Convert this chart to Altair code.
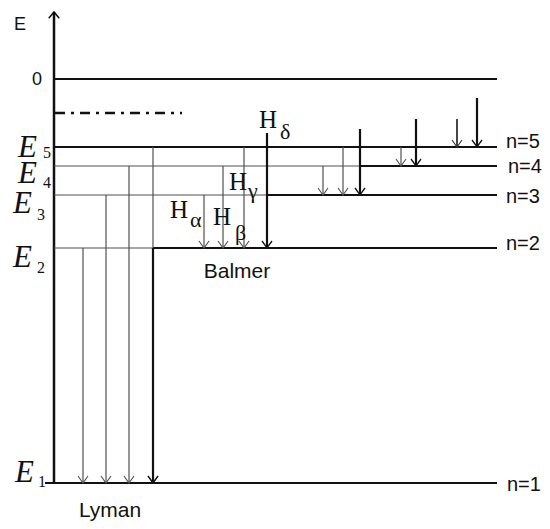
import altair as alt
import pandas as pd

# ---------------- data (diagram coordinates) ----------------
level_names = ["n=1", "n=2", "n=3", "n=4", "n=5"]
level_y = [483, 248, 195, 166, 147]
level_start = [45, 54, 54, 54, 54]
level_thick_from = [45, 153, 267, 360, 54]
level_end = 497
level_label_x = [507, 506, 506, 508, 506]
level_label_base = [491, 250, 203, 173, 148]

energy_sub = ["1", "2", "3", "4", "5"]
energy_x = [15, 13, 13, 18, 18]
energy_base = [482, 267, 213, 183, 157]
energy_sub_x = [38, 37, 37, 43, 43]
energy_sub_base = [487, 273, 220, 188, 158]

zero_y = 79
limit_dash_y = 113
limit_dash_x = [55, 182]
axis_x = 54
axis_top = 12

trans_series = ["Lyman"] * 4 + ["Balmer"] * 3 + ["Paschen"] * 2 + ["Brackett"] + ["Pfund"]
trans_x = [83, 106, 129, 153, 204, 223, 244, 323, 343, 401, 457]
trans_top = [248, 195, 166, 147, 195, 166, 147, 166, 147, 147, 119]
trans_bottom = [483] * 4 + [248] * 3 + [195] * 2 + [166] + [147]
trans_w = [1.2, 1.2, 1.2, 1.2, 1.2, 1.2, 1.2, 1.2, 1.2, 1.2, 1.8]

limit_series = ["Lyman", "Balmer", "Paschen", "Brackett", "Pfund"]
limit_x = [153, 267, 360, 416, 477]
limit_top = [248, 133, 129, 119, 98]
limit_bottom = [483, 248, 195, 166, 147]

h_sub = ["α", "β", "γ", "δ"]
h_x = [170, 213, 229, 259]
h_base = [218, 225, 190, 128]
h_sub_x = [190, 235, 248, 280]
h_sub_base = [227, 240, 198, 139]

series_labels = ["Lyman", "Balmer"]
series_label_x = [110, 237]
series_label_base = [517, 278]

# ---------------- scales ----------------
W, H = 534, 513
xs = alt.Scale(domain=[8, 8 + W], zero=False, nice=False)
ys = alt.Scale(domain=[8, 8 + H], zero=False, nice=False, reverse=True)

BLACK = "#111111"
GRAY = "#505050"

# ---------------- segments ----------------
seg = []
seg.append(dict(x=axis_x, x2=axis_x, y=axis_top, y2=level_y[0], w=2.5, c=BLACK))
seg.append(dict(x=axis_x, x2=level_end, y=zero_y, y2=zero_y, w=2, c=BLACK))
for i in range(len(level_names)):
    yv = level_y[i]
    if level_thick_from[i] > level_start[i]:
        seg.append(dict(x=level_start[i], x2=level_thick_from[i], y=yv, y2=yv, w=1.2, c=GRAY))
    seg.append(dict(x=level_thick_from[i], x2=level_end, y=yv, y2=yv, w=2.2, c=BLACK))
for i in range(len(trans_x)):
    seg.append(dict(x=trans_x[i], x2=trans_x[i], y=trans_top[i], y2=trans_bottom[i],
                    w=trans_w[i], c=GRAY if trans_w[i] < 1.5 else "#333333"))
for i in range(len(limit_x)):
    seg.append(dict(x=limit_x[i], x2=limit_x[i], y=limit_top[i], y2=limit_bottom[i],
                    w=2.2, c=BLACK))
seg_df = pd.DataFrame(seg)

rules = alt.Chart(seg_df).mark_rule().encode(
    x=alt.X("x:Q", scale=xs, axis=None),
    x2="x2:Q",
    y=alt.Y("y:Q", scale=ys, axis=None),
    y2="y2:Q",
    strokeWidth=alt.StrokeWidth("w:Q", scale=None),
    color=alt.Color("c:N", scale=None),
)

dash_df = pd.DataFrame([dict(x=limit_dash_x[0], x2=limit_dash_x[1], y=limit_dash_y, y2=limit_dash_y)])
dash = alt.Chart(dash_df).mark_rule(color=BLACK, strokeWidth=2.5, strokeDash=[10, 6, 3, 6]).encode(
    x=alt.X("x:Q", scale=xs, axis=None), x2="x2:Q",
    y=alt.Y("y:Q", scale=ys, axis=None), y2="y2:Q",
)

# ---------------- arrowheads ----------------
heads = []
for i in range(len(trans_x)):
    heads.append(dict(x=trans_x[i], y=trans_bottom[i], c=GRAY if trans_w[i] < 1.5 else "#333333", w=1.1))
for i in range(len(limit_x)):
    heads.append(dict(x=limit_x[i], y=limit_bottom[i], c=BLACK, w=1.3))
head_df = pd.DataFrame(heads)
arrowheads = alt.Chart(head_df).mark_point(
    shape="M-1,-1.4L0,0L1,-1.4", filled=False, size=100, opacity=1
).encode(
    x=alt.X("x:Q", scale=xs, axis=None),
    y=alt.Y("y:Q", scale=ys, axis=None),
    color=alt.Color("c:N", scale=None),
    strokeWidth=alt.StrokeWidth("w:Q", scale=None),
)
axis_head = alt.Chart(pd.DataFrame([dict(x=axis_x, y=axis_top)])).mark_point(
    shape="M-1,1.2L0,0L1,1.2", filled=False, size=110, color=BLACK, strokeWidth=1.5, opacity=1
).encode(x=alt.X("x:Q", scale=xs, axis=None), y=alt.Y("y:Q", scale=ys, axis=None))


# ---------------- texts ----------------
def text_layer(df, font, align="left", style="normal"):
    return alt.Chart(df).mark_text(
        font=font, align=align, baseline="alphabetic", fontStyle=style, color=BLACK
    ).encode(
        x=alt.X("x:Q", scale=xs, axis=None),
        y=alt.Y("y:Q", scale=ys, axis=None),
        text="t:N",
        size=alt.Size("s:Q", scale=None),
    )


sans_left = pd.DataFrame(
    [dict(x=14, y=30, t="E", s=18), dict(x=32, y=85, t="0", s=18)]
    + [dict(x=level_label_x[i], y=level_label_base[i], t=level_names[i], s=20) for i in range(5)]
)
sans_center = pd.DataFrame(
    [dict(x=series_label_x[i], y=series_label_base[i], t=series_labels[i], s=21) for i in range(2)]
)
e_letters = pd.DataFrame([dict(x=energy_x[i], y=energy_base[i], t="E", s=31) for i in range(5)])
e_subs = pd.DataFrame([dict(x=energy_sub_x[i], y=energy_sub_base[i], t=energy_sub[i], s=16) for i in range(5)])
h_letters = pd.DataFrame([dict(x=h_x[i], y=h_base[i], t="H", s=25) for i in range(4)])
h_subs = pd.DataFrame([dict(x=h_sub_x[i], y=h_sub_base[i], t=h_sub[i], s=22) for i in range(4)])

chart = alt.layer(
    rules, dash, arrowheads, axis_head,
    text_layer(sans_left, "Liberation Sans"),
    text_layer(sans_center, "Liberation Sans", align="center"),
    text_layer(e_letters, "Liberation Serif", style="italic"),
    text_layer(e_subs, "Liberation Serif"),
    text_layer(h_letters, "Liberation Serif"),
    text_layer(h_subs, "Liberation Serif"),
).properties(
    width=W, height=H, padding=0, autosize=alt.AutoSizeParams(type="none")
).configure_view(stroke=None)

chart.save("out.html", embed_options={"renderer": "svg", "actions": False})
